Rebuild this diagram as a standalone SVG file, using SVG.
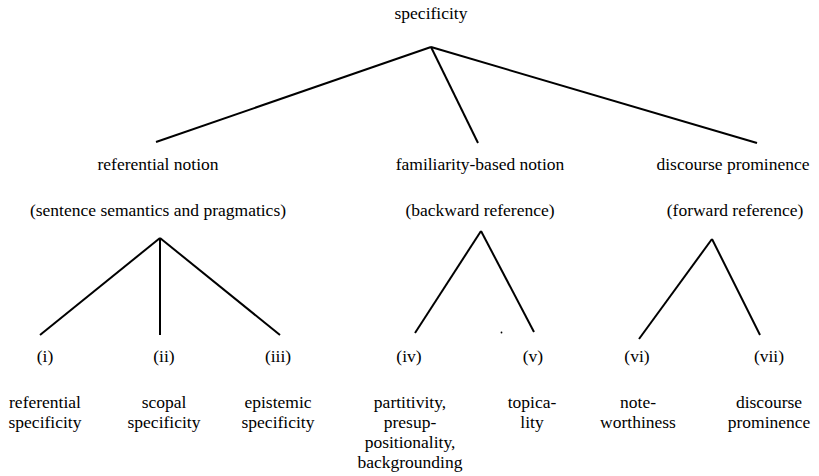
<svg xmlns="http://www.w3.org/2000/svg" width="819" height="476" viewBox="0 0 819 476">
<style>
.t text{font-size:17.5px;fill:#000;text-anchor:middle}
.e line{stroke:#000;stroke-width:2;stroke-linecap:butt}
</style>
<rect width="819" height="476" fill="#fff"/>
<g class="e" id="connectors">
<line x1="431" y1="47" x2="156" y2="142"/>
<line x1="431" y1="47" x2="478" y2="143"/>
<line x1="431" y1="47" x2="757" y2="143"/>
<line x1="160" y1="238" x2="40" y2="335"/>
<line x1="160" y1="238" x2="160" y2="335"/>
<line x1="160" y1="238" x2="280" y2="335"/>
<line x1="481" y1="231" x2="415" y2="333"/>
<line x1="481" y1="231" x2="534" y2="332"/>
<line x1="712" y1="239" x2="639" y2="339"/>
<line x1="712" y1="239" x2="760" y2="335"/>
</g>
<circle cx="501.5" cy="332.5" r="0.9" fill="#000"/>
<g class="t" font-family="'Liberation Serif', 'Times New Roman', 'DejaVu Serif', serif">
<g id="root"><text x="431" y="19">specificity</text></g>
<g id="referential"><text x="158" y="170">referential notion</text><text x="158" y="216">(sentence semantics and pragmatics)</text></g>
<g id="familiarity"><text x="480" y="170">familiarity-based notion</text><text x="480" y="216">(backward reference)</text></g>
<g id="discourse"><text x="733" y="170">discourse prominence</text><text x="735" y="216">(forward reference)</text></g>
<g id="i"><text x="45" y="362">(i)</text><text x="45" y="408">referential</text><text x="45" y="428">specificity</text></g>
<g id="ii"><text x="164" y="362">(ii)</text><text x="164" y="408">scopal</text><text x="164" y="428">specificity</text></g>
<g id="iii"><text x="278" y="362">(iii)</text><text x="278" y="408">epistemic</text><text x="278" y="428">specificity</text></g>
<g id="iv"><text x="409" y="362">(iv)</text><text x="410" y="408">partitivity,</text><text x="410" y="428">presup-</text><text x="410" y="448">positionality,</text><text x="410" y="468">backgrounding</text></g>
<g id="v"><text x="533" y="362">(v)</text><text x="532" y="408">topica-</text><text x="532" y="428">lity</text></g>
<g id="vi"><text x="637" y="362">(vi)</text><text x="638" y="408">note-</text><text x="638" y="428">worthiness</text></g>
<g id="vii"><text x="769" y="362">(vii)</text><text x="769" y="408">discourse</text><text x="769" y="428">prominence</text></g>
</g>
</svg>
